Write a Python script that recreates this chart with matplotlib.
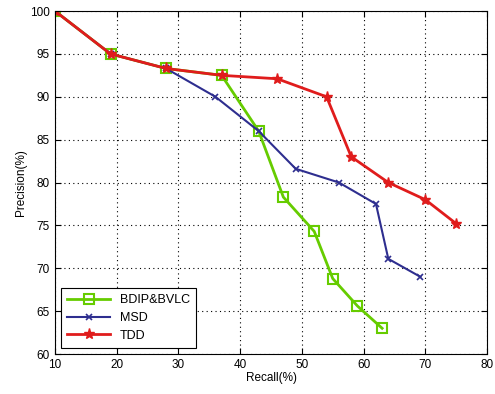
import matplotlib.pyplot as plt

# values
bdip_x = [10, 19, 28, 37, 43, 47, 52, 55, 59, 63]
bdip_y = [100, 95, 93.3, 92.5, 86, 78.3, 74.3, 68.8, 65.6, 63]
msd_x = [10, 19, 28, 36, 43, 49, 56, 62, 64, 69.2]
msd_y = [100, 95, 93.3, 90, 86, 81.6, 80, 77.5, 71.1, 69]
tdd_x = [10, 19, 28, 37, 46, 54, 58, 64, 70, 75]
tdd_y = [100, 95, 93.3, 92.5, 92.1, 90, 83, 80, 78, 75.2]
labels = ['BDIP&BVLC', 'MSD', 'TDD']

plt.rcParams['font.family'] = ['Liberation Sans', 'DejaVu Sans']

fig = plt.figure(figsize=(4.95, 3.94), dpi=100)
ax = fig.add_axes([0.111, 0.1015, 0.873, 0.8705])

ax.plot(bdip_x, bdip_y, color='#66cc00', lw=2, marker='s', ms=7,
        mfc='none', mew=1.5, label=labels[0])
ax.plot(msd_x, msd_y, color='#2e2e8f', lw=1.5, marker='x', ms=5,
        mew=1.2, label=labels[1])
ax.plot(tdd_x, tdd_y, color='#e01c1c', lw=2, marker='*', ms=8,
        label=labels[2])

ax.set_xlim(10, 80)
ax.set_ylim(60, 100)
ax.set_xticks(range(10, 81, 10))
ax.set_yticks(range(60, 101, 5))
ax.tick_params(direction='in', labelsize=8.5, length=4, top=True, right=True)
ax.grid(True, linestyle=(0, (1, 3)), color='black', lw=0.8)
ax.set_xlabel('Recall(%)', fontsize=8.5, labelpad=1)
ax.set_ylabel('Precision(%)', fontsize=8.5, labelpad=2)

leg = ax.legend(loc='lower left', fontsize=9, fancybox=False,
                edgecolor='black', framealpha=1, borderaxespad=0.5,
                handlelength=3.4, labelspacing=0.45, borderpad=0.5)
leg.get_frame().set_linewidth(0.8)

fig.savefig('out.png', dpi=100)
